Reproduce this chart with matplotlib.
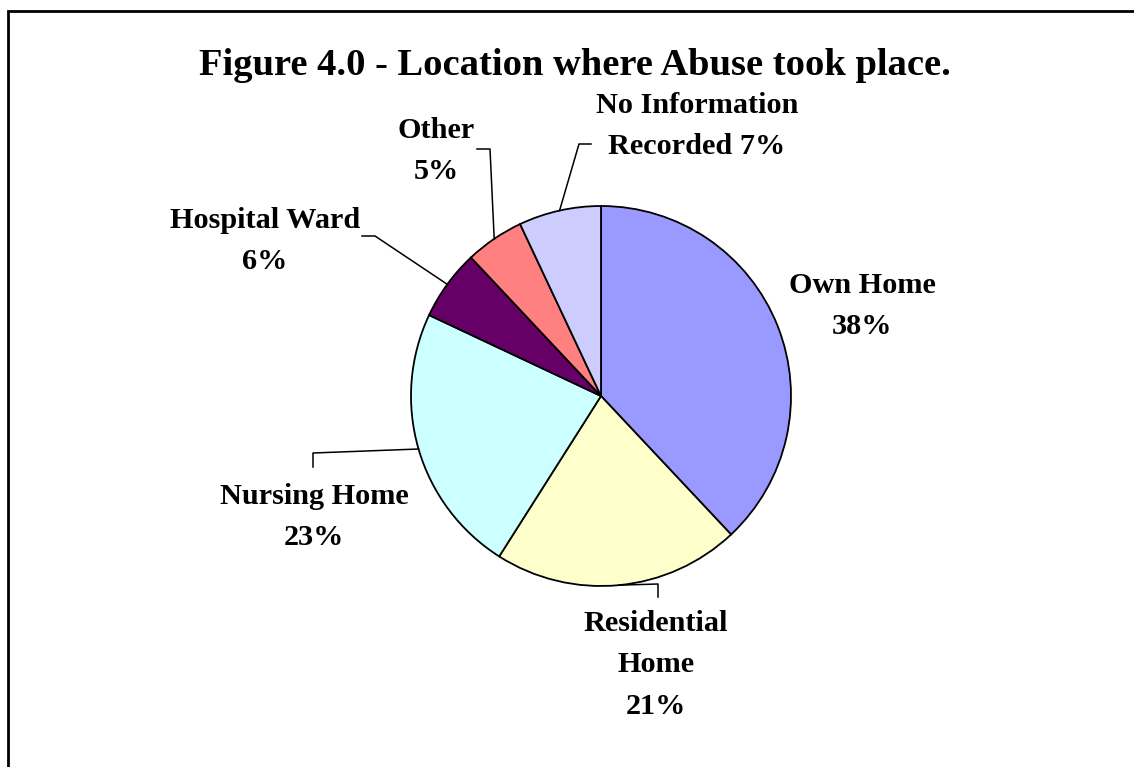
import matplotlib
matplotlib.use("Agg")
import matplotlib.pyplot as plt
import numpy as np

plt.rcParams['font.family'] = ['Liberation Serif', 'DejaVu Serif']

# data
names = ["Own Home", "Residential\nHome", "Nursing Home", "Hospital Ward", "Other", "No Information\nRecorded"]
values = [38, 21, 23, 6, 5, 7]
seps = ["\n", "\n", "\n", "\n", "\n", " "]
colors = ["#9999FF", "#FFFFCC", "#CCFFFF", "#660066", "#FF8080", "#CCCCFF"]

W, H = 1134, 767
def Y(y):  # image row -> axes y
    return H - y

fig = plt.figure(figsize=(W / 100, H / 100), dpi=100)
ax = fig.add_axes([0, 0, 1, 1])

cx, cy, r = 601, Y(396), 190
wedges, _ = ax.pie(values, colors=colors, startangle=90, counterclock=False,
                   center=(cx, cy), radius=r,
                   wedgeprops=dict(edgecolor="black", linewidth=1.3))
ax.set_xlim(0, W)
ax.set_ylim(0, H)
ax.set_aspect("equal")
ax.axis("off")

# label layout (image pixels): text centre, leader elbow, leader end
text_pos = [(862, 306), (656, 665), (314, 517), (265, 241), (436, 151), (697, 126)]
elbows = [None, (658, 584), (313, 453), (375, 236), (490, 149), (579, 144)]
ends = [None, (658, 597), (313, 467), (362, 236), (477, 149), (591, 144)]

for i, w in enumerate(wedges):
    txt = f"{names[i]}{seps[i]}{values[i]}%"
    tx, ty = text_pos[i]
    ax.text(tx, Y(ty), txt, ha="center", va="center", fontsize=21.8,
            fontweight="bold", linespacing=1.69)
    if elbows[i] is not None:
        mid = np.deg2rad((w.theta1 + w.theta2) / 2)
        sx, sy = cx + r * np.cos(mid), cy + r * np.sin(mid)
        ex, ey = elbows[i]
        fx, fy = ends[i]
        ax.plot([sx, ex, fx], [sy, Y(ey), Y(fy)], color="black", lw=1.1)

ax.text(575, Y(75), "Figure 4.0 - Location where Abuse took place.", ha="center",
        va="baseline", fontsize=27.7, fontweight="bold")

# chart border (left and top edges visible)
ax.plot([8, 8, W], [0, Y(11), Y(11)], color="black", lw=2, solid_joinstyle="miter")

fig.savefig("out.png", dpi=100)
